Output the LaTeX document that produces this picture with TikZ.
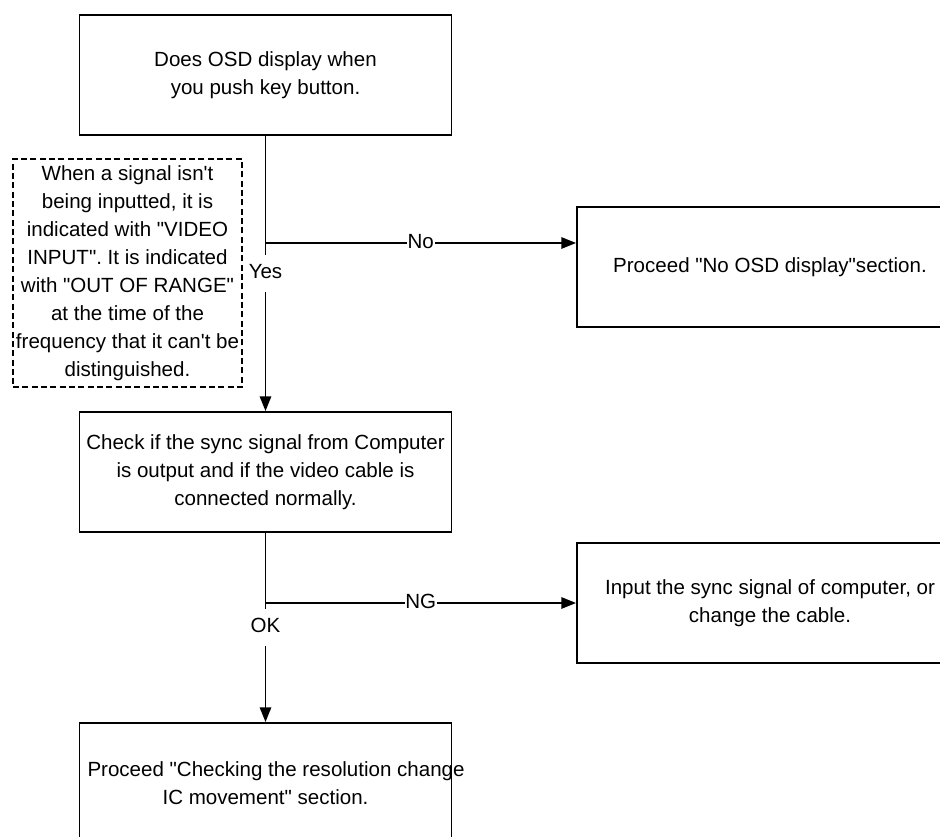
\documentclass[tikz,border=0pt]{standalone}
\usepackage{fontspec}
\setmainfont{Liberation Sans}[Ligatures=TeXOff]
\usetikzlibrary{arrows.meta}
\frenchspacing

\begin{document}
\begin{tikzpicture}[x=0.75pt, y=-0.75pt,
    every node/.style={font=\fontsize{15.4}{21}\selectfont},
    box/.style={draw, line width=1.4pt, minimum width=279pt, minimum height=90pt, align=center, inner sep=0pt},
    sidebox/.style={box, minimum width=289.5pt},
    notebox/.style={draw, line width=1pt, dash pattern=on 4.5pt off 2.5pt, minimum width=171.75pt, minimum height=171pt, align=center, inner sep=0pt},
    lbl/.style={fill=white, inner xsep=0.5pt, inner ysep=7pt, text height=11pt, text depth=3pt},
    flow/.style={line width=1.3pt, -{Triangle[length=11pt, width=8.5pt]}}]
    \useasboundingbox (0, 0) rectangle (940, 837);

    % main column
    \node [box] (osd) at (265.5, 75) {Does OSD display when\\you push key button.};
    \node [box] (sync) at (265.5, 472) {Check if the sync signal from Computer\\is output and if the video cable is\\connected normally.};
    \node [box] (resol) at (265.5, 783) {\makebox[267pt][l]{Proceed "Checking the resolution change}\\IC movement" section.};

    % side column
    \node [sidebox] (nodisp) at (770, 267) {Proceed "No OSD display"section.};
    \node [sidebox] (chgcable) at (770, 603) {Input the sync signal of computer, or\\change the cable.};

    \node [notebox] (note) at (127.5, 273) {When a signal isn't\\being inputted, it is\\indicated with "VIDEO\\INPUT". It is indicated\\with "OUT OF RANGE"\\at the time of the\\frequency that it can't be\\distinguished.};

    \coordinate (jno) at (265.5, 243);
    \coordinate (jng) at (265.5, 603);

    \draw [flow] (osd) -- node [lbl] {Yes} (sync);
    \draw [flow] (sync) -- node [lbl] {OK} (resol);
    \draw [flow] (jno) -- node [lbl] {No} (jno -| nodisp.west);
    \draw [flow] (jng) -- node [lbl] {NG} (chgcable.west);
\end{tikzpicture}
\end{document}
